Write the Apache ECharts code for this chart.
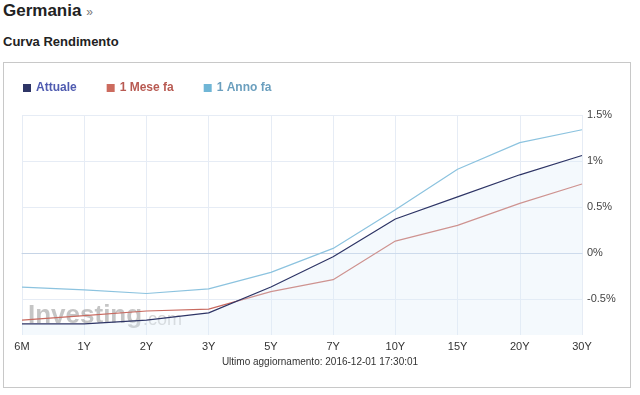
<!DOCTYPE html>
<html><head><meta charset="utf-8">
<script src="https://cdn.jsdelivr.net/npm/echarts@6/dist/echarts.min.js"></script>
<style>
html,body{margin:0;padding:0;background:#fff;width:640px;height:395px;overflow:hidden;font-family:Arial,"Liberation Sans",sans-serif;}
#t1{position:absolute;left:3px;top:1px;font-size:17px;font-weight:bold;color:#222;}
#t1 span{font-size:12px;color:#777;font-weight:normal;}
#t2{position:absolute;left:3px;top:34px;font-size:13px;font-weight:bold;color:#222;}
#box{position:absolute;left:3px;top:62px;width:626px;height:324px;border:1px solid #c8c8c8;}
#chart{position:absolute;left:0;top:0;width:640px;height:395px;}
</style></head><body>
<div id="t1">Germania <span>»</span></div>
<div id="t2">Curva Rendimento</div>
<div id="box"></div>
<div id="chart"></div>
<script>
const categories = ['6M','1Y','2Y','3Y','5Y','7Y','10Y','15Y','20Y','30Y'];
const attuale = [-0.77,-0.77,-0.73,-0.65,-0.37,-0.04,0.37,0.61,0.85,1.06];
const meseFa = [-0.73,-0.68,-0.63,-0.61,-0.42,-0.29,0.13,0.30,0.54,0.75];
const annoFa = [-0.37,-0.40,-0.44,-0.39,-0.21,0.05,0.47,0.91,1.20,1.34];
const yTicks = [-0.5,0,0.5,1,1.5];
const updateText = 'Ultimo aggiornamento: 2016-12-01 17:30:01';

const chart = echarts.init(document.getElementById('chart'));
chart.setOption({
  animation:false,
  textStyle:{fontFamily:'Arial, "Liberation Sans", sans-serif'},
  legend:{
    left:18, top:77, icon:'rect', itemWidth:8, itemHeight:8, itemGap:30, itemTextGap:5,
    textStyle:{fontSize:12, fontWeight:'bold'},
    data:[
      {name:'Attuale', textStyle:{color:'#4f5bb0'}},
      {name:'1 Mese fa', textStyle:{color:'#b85a52'}},
      {name:'1 Anno fa', textStyle:{color:'#6b9fbe'}}
    ]
  },
  grid:{left:22, right:58, top:115, bottom:60},
  graphic:[
    {type:'text', left:28, top:303, z:1, style:{text:'Investing', font:'bold 26px Arial', fill:'rgba(150,150,150,0.55)'}},
    {type:'text', left:143, top:311, z:1, style:{text:'.com', font:'18px Arial', fill:'rgba(170,170,170,0.5)'}},
    {type:'text', left:'center', top:357, style:{text:updateText, font:'10px Arial', fill:'#333'}}
  ],
  xAxis:{
    type:'category', data:categories, boundaryGap:false,
    axisLine:{lineStyle:{color:'#c6d4e6'}},
    axisTick:{show:false},
    axisLabel:{color:'#333', fontSize:11, margin:6},
    splitLine:{show:true, lineStyle:{color:'#e6ecf5'}}
  },
  yAxis:{
    type:'value', position:'right', min:-0.891, max:1.5,
    axisLine:{show:false}, axisTick:{show:false, customValues:yTicks},
    axisLabel:{customValues:yTicks, color:'#444', fontSize:11, margin:5,
      formatter:v=>(Math.abs(v)<1e-9?0:v)+'%'},
    splitLine:{show:true, lineStyle:{color:'#e6ecf5'}}
  },
  series:[
    {name:'Attuale', type:'line', data:attuale, symbol:'none', z:4,
     lineStyle:{color:'#2e3566', width:1.2}, itemStyle:{color:'#2e3566'},
     areaStyle:{color:'rgba(220,235,250,0.45)', origin:'start'}},
    {name:'1 Mese fa', type:'line', data:meseFa, symbol:'none', z:3,
     lineStyle:{color:'#c86a60', width:1.2}, itemStyle:{color:'#cc6b5e'}},
    {name:'1 Anno fa', type:'line', data:annoFa, symbol:'none', z:3,
     lineStyle:{color:'#8cc3df', width:1.2}, itemStyle:{color:'#70b6d6'}}
  ]
});
</script>
</body></html>
